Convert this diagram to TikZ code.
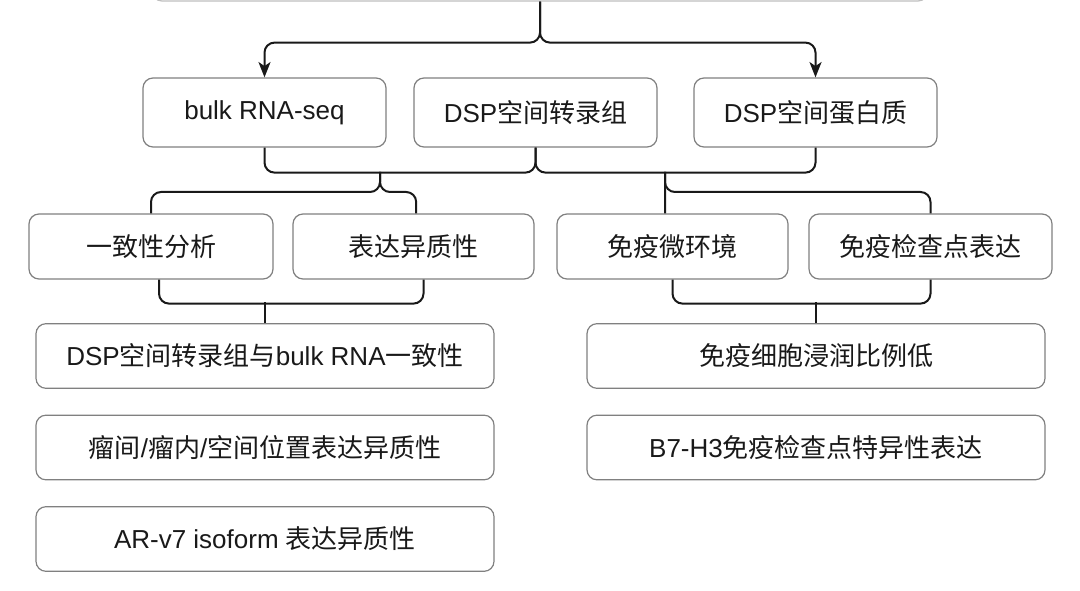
\documentclass[tikz,border=0pt]{standalone}
\usepackage{fontspec}
\setmainfont{Liberation Sans}
\newfontfamily\zhfont{Noto Sans CJK SC}
\newcommand{\zh}[1]{{\zhfont #1}}
\usetikzlibrary{arrows.meta}

\tikzset{
	link/.style={draw=black!90,line width=1.5pt,rounded corners=7.5pt},
	tip/.style={-{Stealth[length=11.5pt,width=9pt,inset=3pt]}}
}

\begin{document}
\begin{tikzpicture}[x=0.75pt,y=-0.75pt]
	\useasboundingbox (0,0) rectangle (1080,591);
	\clip (0,0) rectangle (1080,591);

	\begin{scope}[every node/.style={rectangle,rounded corners=7.5pt,draw=black!50,line width=0.9pt,fill=white,text=black!90,inner sep=0pt,font=\fontsize{19.5}{23}\selectfont}]
		\node[draw=black!25,minimum width=582pt,minimum height=61.5pt] (root) at (540,-40) {};

		\node[minimum width=182.25pt,minimum height=51.75pt] (bulk) at (264.5,112.5) {bulk RNA-seq};
		\node[minimum width=182.25pt,minimum height=51.75pt] (dspt) at (535.5,112.5) {DSP\zh{空间转录组}};
		\node[minimum width=182.25pt,minimum height=51.75pt] (dspp) at (815.5,112.5) {DSP\zh{空间蛋白质}};

		\node[minimum width=183pt,minimum height=48.75pt] (cons) at (151,246.5) {\zh{一致性分析}};
		\node[minimum width=180.75pt,minimum height=48.75pt] (hetero) at (413.5,246.5) {\zh{表达异质性}};
		\node[minimum width=173.25pt,minimum height=48.75pt] (immenv) at (672.5,246.5) {\zh{免疫微环境}};
		\node[minimum width=182.25pt,minimum height=48.75pt] (check) at (930.5,246.5) {\zh{免疫检查点表达}};

		\node[minimum width=343.5pt,minimum height=48.5pt] (dual) at (265,356) {DSP\zh{空间转录组与}bulk RNA\zh{一致性}};
		\node[minimum width=343.5pt,minimum height=48.5pt] (infil) at (816,356) {\zh{免疫细胞浸润比例低}};
		\node[minimum width=343.5pt,minimum height=48.5pt] (site) at (265,447.5) {\zh{瘤间}/\zh{瘤内}/\zh{空间位置表达异质性}};
		\node[minimum width=343.5pt,minimum height=48.5pt] (bhthree) at (816,447.5) {B7-H3\zh{免疫检查点特异性表达}};
		\node[minimum width=343.5pt,minimum height=48.5pt] (arv) at (265,539) {AR-v7 isoform \zh{表达异质性}};
	\end{scope}

	% split from the top
	\draw[link,tip] (root.south) -- ++(0,41) -| (bulk.north);
	\draw[link,tip] (root.south) -- ++(0,41) -| (dspp.north);

	% merge of the three data types
	\draw[link] (dspt.south) -- ++(0,25) -| (bulk.south);
	\draw[link] (dspt.south) -- ++(0,25) -| (dspp.south);

	\coordinate (jl) at (380,172);
	\coordinate (jr) at (665,172);
	\draw[link] (jl) -- ++(0,20) -| (cons.north);
	\draw[link] (jl) -- ++(0,20) -| ([xshift=2pt]hetero.north);
	\draw[link] (jr) -- ([xshift=-5.6pt]immenv.north);
	\draw[link] (jr) -- ++(0,20) -| (check.north);

	% results
	\draw[link] ([xshift=6pt]cons.south) -- ++(0,24) -| ([xshift=7.5pt]hetero.south);
	\draw[link] (dual.north) -- ++(0,-21);
	\draw[link] (immenv.south) -- ++(0,24) -| (check.south);
	\draw[link] (infil.north) -- ++(0,-21);
\end{tikzpicture}
\end{document}
